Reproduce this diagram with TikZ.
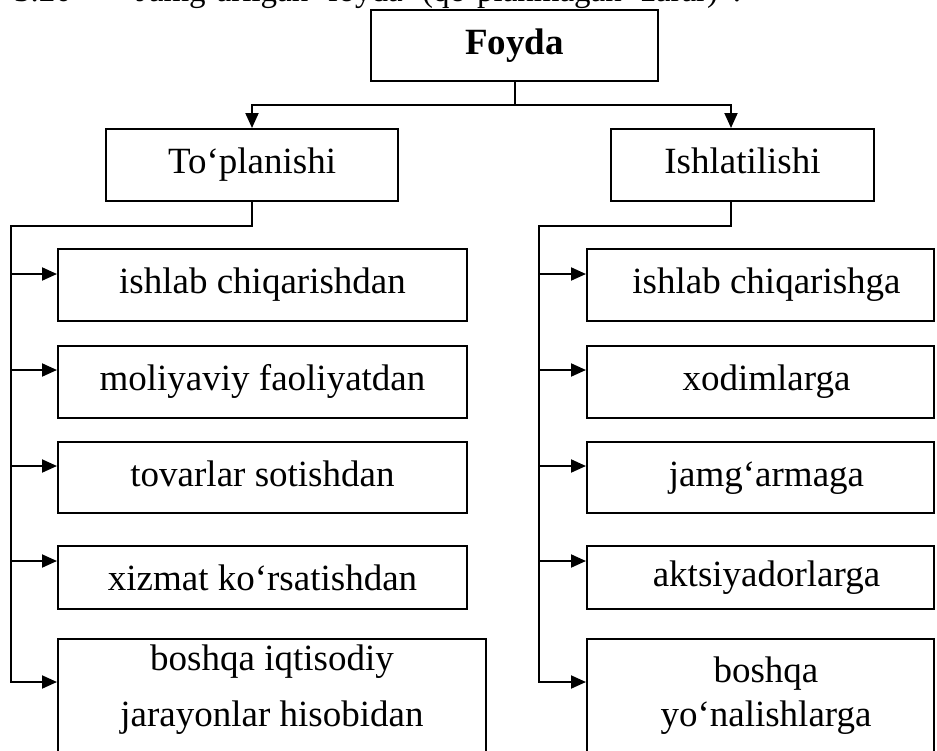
\documentclass[tikz,border=0pt]{standalone}
\usepackage{fontspec}
\setmainfont{Liberation Serif}
\usetikzlibrary{arrows.meta,calc}
\begin{document}
\begin{tikzpicture}[x=1pt,y=-1pt,line width=2pt,
  box/.style={draw,rectangle,inner sep=0pt,text height=25pt,text depth=8pt,font=\fontsize{37}{44}\selectfont},
  txt/.style={inner sep=0pt,font=\fontsize{37}{44}\selectfont},
  arr/.style={-{Triangle[length=15pt,width=13pt]}}]
\useasboundingbox (0,0) rectangle (937,750);
\clip (0,0) rectangle (937,750);
\node[txt,anchor=base west,font=\fontsize{33}{40}\selectfont] (title) at (13,1) {\makebox[727pt][s]{3.20 - “Jamg‘arilgan foyda (qo‘planmagan zarar)”.}};
% top
\node[box,minimum width=287pt,minimum height=71pt,font=\bfseries\fontsize{37}{44}\selectfont] (foyda) at (514.5,45.5) {Foyda};
\node[box,minimum width=292pt,minimum height=72pt] (tp) at (252,165) {To‘planishi};
\node[box,minimum width=263pt,minimum height=72pt] (ish) at (742.5,165) {Ishlatilishi};
% left column
\node[box,minimum width=409pt,minimum height=72pt] (l1) at (262.5,285) {ishlab chiqarishdan};
\node[box,minimum width=409pt,minimum height=72pt] (l2) at (262.5,382) {moliyaviy faoliyatdan};
\node[box,minimum width=409pt,minimum height=71pt] (l3) at (262.5,477.5) {tovarlar sotishdan};
\node[box,minimum width=409pt,minimum height=63pt,text depth=0pt] (l4) at (262.5,577.5) {xizmat ko‘rsatishdan};
\node[box,minimum width=428pt,minimum height=141pt] (l5) at (272,709.5) {};
\node[txt,anchor=base] (l5a) at (272,670) {boshqa iqtisodiy};
\node[txt,anchor=base] (l5b) at (272,726) {jarayonlar hisobidan};
% right column
\node[box,minimum width=347pt,minimum height=72pt] (r1) at (760.5,285) {\hspace{12pt}ishlab chiqarishga};
\node[box,minimum width=347pt,minimum height=72pt] (r2) at (760.5,382) {\hspace{12pt}xodimlarga};
\node[box,minimum width=347pt,minimum height=71pt] (r3) at (760.5,477.5) {\hspace{12pt}jamg‘armaga};
\node[box,minimum width=347pt,minimum height=63pt] (r4) at (760.5,577.5) {\hspace{12pt}aktsiyadorlarga};
\node[box,minimum width=347pt,minimum height=141pt] (r5) at (760.5,709.5) {};
\node[txt,anchor=base] (r5a) at (766,682) {boshqa};
\node[txt,anchor=base] (r5b) at (766,726) {yo‘nalishlarga};
% connectors top
\coordinate (j) at (514.5,105);
\draw (foyda.south) -- (j);
\draw[arr] (j) -| (tp.north);
\draw[arr] (j) -| ($(ish.north)+(-11.5,0)$);
% left trunk
\coordinate (lt) at (11,226);
\coordinate (a1) at (11,274);
\coordinate (a2) at (11,370);
\coordinate (a3) at (11,466);
\coordinate (a4) at (11,561);
\coordinate (a5) at (11,682);
\draw[arr] (tp.south) |- (lt) -- (a5) -- (a5 -| l5.west);
\draw[arr] (a1) -- (a1 -| l1.west);
\draw[arr] (a2) -- (a2 -| l2.west);
\draw[arr] (a3) -- (a3 -| l3.west);
\draw[arr] (a4) -- (a4 -| l4.west);
% right trunk
\coordinate (rt) at (539,226);
\coordinate (b1) at (539,274);
\coordinate (b2) at (539,370);
\coordinate (b3) at (539,466);
\coordinate (b4) at (539,561);
\coordinate (b5) at (539,682);
\draw[arr] ($(ish.south)+(-11.5,0)$) |- (rt) -- (b5) -- (b5 -| r5.west);
\draw[arr] (b1) -- (b1 -| r1.west);
\draw[arr] (b2) -- (b2 -| r2.west);
\draw[arr] (b3) -- (b3 -| r3.west);
\draw[arr] (b4) -- (b4 -| r4.west);
\end{tikzpicture}
\end{document}
